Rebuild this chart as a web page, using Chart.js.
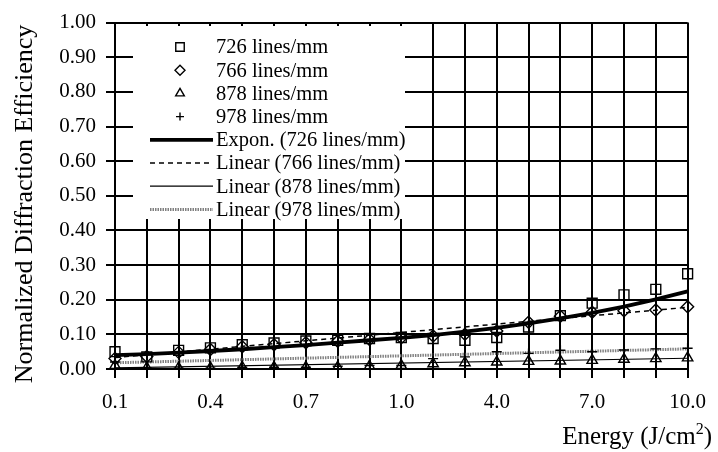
<!DOCTYPE html>
<html>
<head>
<meta charset="utf-8">
<script src="https://cdn.jsdelivr.net/npm/chart.js"></script>
<style>
  html, body { margin: 0; padding: 0; background: #fff; }
  #wrap { width: 718px; height: 452px; }
</style>
</head>
<body>
<div id="wrap"><canvas id="myChart" width="718" height="452"></canvas></div>
<script>
// energy categories (J/cm2)
var energy = ['0.1', '0.2', '0.3', '0.4', '0.5', '0.6', '0.7', '0.8', '0.9', '1.0',
              '2.0', '3.0', '4.0', '5.0', '6.0', '7.0', '8.0', '9.0', '10.0'];

// measured points
var eff726 = [0.050, 0.035, 0.054, 0.061, 0.070, 0.075, 0.081, 0.083, 0.088, 0.091,
              0.088, 0.083, 0.091, 0.121, 0.154, 0.190, 0.214, 0.230, 0.275];
var eff766 = [0.030, 0.036, 0.048, 0.056, 0.064, 0.070, 0.076, 0.080, 0.085, 0.090,
              0.095, 0.100, 0.110, 0.135, 0.152, 0.164, 0.168, 0.170, 0.180];
var eff878 = [0.010, 0.003, 0.003, 0.003, 0.005, 0.005, 0.005, 0.005, 0.008, 0.010,
              0.015, 0.018, 0.020, 0.022, 0.023, 0.025, 0.028, 0.030, 0.032];
var eff978 = [0.020, 0.002, 0.002, 0.002, 0.005, 0.005, 0.005, 0.008, 0.010, 0.010,
              0.030, 0.035, 0.050, 0.045, 0.054, 0.050, 0.055, 0.058, 0.060];

// trendlines
var expon726 = [0.040, 0.043, 0.047, 0.052, 0.057, 0.063, 0.069, 0.076, 0.083, 0.090,
                0.098, 0.108, 0.119, 0.132, 0.146, 0.162, 0.180, 0.201, 0.224];
var lin766Ends = [0.033, 0.178];
var lin878Ends = [0.003, 0.031];
var lin978Ends = [0.018, 0.058];

var yTicks = ['0.00', '0.10', '0.20', '0.30', '0.40', '0.50', '0.60', '0.70', '0.80', '0.90', '1.00'];

var serif = "'Liberation Serif', 'Times New Roman', serif";

function ends(v) {
    return [{ x: energy[0], y: v[0] }, { x: energy[energy.length - 1], y: v[1] }];
}

function markers(label, data, style, r) {
    return {
        label: label, data: data, showLine: false,
        pointStyle: style, pointRadius: r, pointHoverRadius: r,
        pointBorderColor: '#000', pointBackgroundColor: 'rgba(0,0,0,0)', pointBorderWidth: 1.4,
        borderColor: '#000', backgroundColor: 'rgba(0,0,0,0)'
    };
}

function trend(label, data, color, width, dash) {
    return {
        label: label, data: data, pointRadius: 0, fill: false, tension: 0,
        borderColor: color, borderWidth: width, borderDash: dash
    };
}

var datasets = [
    markers('726 lines/mm', eff726, 'rect', 7),
    markers('766 lines/mm', eff766, 'rectRot', 6),
    markers('878 lines/mm', eff878, 'triangle', 6),
    markers('978 lines/mm', eff978, 'cross', 5),
    trend('Expon. (726 lines/mm)', expon726, '#000', 3.8, []),
    trend('Linear (766 lines/mm)', ends(lin766Ends), '#000', 1.5, [5, 4]),
    trend('Linear (878 lines/mm)', ends(lin878Ends), '#000', 1.2, []),
    trend('Linear (978 lines/mm)', ends(lin978Ends), '#808080', 3, [1.5, 1])
];

// legend drawn inside the plot, like the original
var boxLegend = {
    id: 'boxLegend',
    afterDraw: function (chart) {
        var ctx = chart.ctx;
        ctx.save();
        ctx.fillStyle = '#fff';
        ctx.fillRect(133, 26, 272, 193);
        ctx.font = '20.5px ' + serif;
        ctx.textBaseline = 'middle';
        ctx.textAlign = 'left';
        chart.data.datasets.forEach(function (ds, i) {
            var y = 47 + i * 23.2;
            if (ds.showLine === false) {
                var opts = { pointStyle: ds.pointStyle, radius: ds.pointRadius - 1, rotation: 0, borderWidth: 1.4 };
                ctx.strokeStyle = '#000';
                ctx.fillStyle = 'rgba(0,0,0,0)';
                ctx.lineWidth = 1.4;
                Chart.helpers.drawPoint(ctx, opts, 180, y);
            } else {
                ctx.beginPath();
                ctx.setLineDash(ds.borderDash);
                ctx.lineWidth = ds.borderWidth;
                ctx.strokeStyle = ds.borderColor;
                ctx.moveTo(150, y);
                ctx.lineTo(213, y);
                ctx.stroke();
                ctx.setLineDash([]);
            }
            ctx.fillStyle = '#000';
            ctx.fillText(ds.label, 216, y + 1);
        });
        ctx.restore();
    }
};

// axis titles (x title with a raised 2)
var axisTitles = {
    id: 'axisTitles',
    afterDraw: function (chart) {
        var ctx = chart.ctx;
        ctx.save();
        ctx.fillStyle = '#000';
        ctx.textBaseline = 'middle';
        ctx.font = '26px ' + serif;
        ctx.translate(25, 204);
        ctx.rotate(-Math.PI / 2);
        ctx.textAlign = 'center';
        ctx.fillText('Normalized Diffraction Efficiency', 0, 0);
        ctx.restore();

        ctx.save();
        ctx.fillStyle = '#000';
        ctx.textBaseline = 'alphabetic';
        ctx.textAlign = 'left';
        var big = '25px ' + serif, small = '16px ' + serif;
        ctx.font = big;
        var w1 = ctx.measureText('Energy (J/cm').width;
        var w3 = ctx.measureText(')').width;
        ctx.font = small;
        var w2 = ctx.measureText('2').width;
        var x = 712 - w1 - w2 - w3, base = 444;
        ctx.font = big;
        ctx.fillText('Energy (J/cm', x, base);
        ctx.font = small;
        ctx.fillText('2', x + w1, base - 10);
        ctx.font = big;
        ctx.fillText(')', x + w1 + w2, base);
        ctx.restore();
    }
};

var ctx = document.getElementById('myChart');
var myChart = new Chart(ctx, {
    type: 'line',
    data: { labels: energy, datasets: datasets },
    plugins: [boxLegend, axisTitles],
    options: {
        responsive: false,
        animation: false,
        events: [],
        layout: { padding: { left: 0, top: 19, right: 23, bottom: 0 } },
        plugins: { legend: { display: false }, tooltip: { enabled: false } },
        scales: {
            x: {
                type: 'category',
                offset: false,
                afterFit: function (s) { s.height = 83; },
                grid: { color: '#000', lineWidth: 2, tickLength: 9, drawTicks: true },
                border: { color: '#000', width: 2 },
                ticks: {
                    autoSkip: false, maxRotation: 0, padding: 12, color: '#000',
                    font: { family: serif, size: 21 },
                    callback: function (v, i) { return i % 3 === 0 ? energy[i] : ''; }
                }
            },
            y: {
                min: 0, max: 1,
                afterFit: function (s) { s.width = 115; },
                grid: { color: '#000', lineWidth: 2, tickLength: 9, drawTicks: true },
                border: { color: '#000', width: 2 },
                ticks: {
                    stepSize: 0.1, padding: 10, color: '#000',
                    font: { family: serif, size: 21 },
                    callback: function (v) { return yTicks[Math.round(v * 10)]; }
                }
            }
        }
    }
});
</script>
</body>
</html>
